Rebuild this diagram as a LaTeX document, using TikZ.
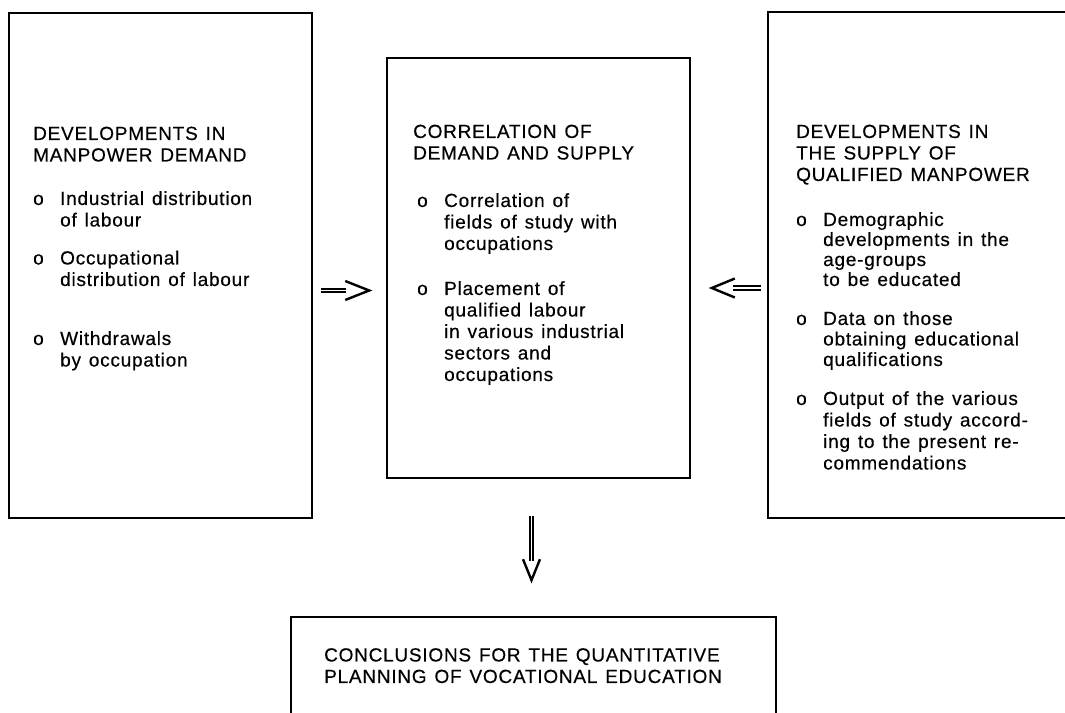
\documentclass[tikz,border=0pt]{standalone}
\usepackage{fontspec}
\setmainfont{Liberation Sans}[LetterSpace=4,WordSpace=1.3,FakeBold=0.4]
\newcommand{\bul}{\makebox[27pt][l]{o}}
\newcommand{\ind}{\hspace*{27pt}}
\tikzset{
  box/.style={draw, line width=1.6pt, inner sep=0pt},
  txt/.style={anchor=north west, inner sep=0pt, align=left, font=\fontsize{19}{21.5}\selectfont},
  shaft/.style={double, double distance=1.4pt, line width=1.9pt},
  chev/.style={line width=2.4pt}
}
\begin{document}
\begin{tikzpicture}[x=1pt, y={(0pt,-1pt)}]
\useasboundingbox (0,0) rectangle (1065,712);
% the four boxes
\node[box, minimum width=303pt, minimum height=505pt] (lbox) at (160.5,265.5) {};
\node[box, minimum width=303pt, minimum height=420pt] (mbox) at (538.5,268) {};
\node[box, minimum width=307pt, minimum height=506pt] (rbox) at (921.5,265) {};
\node[box, minimum width=485pt, minimum height=113pt] (cbox) at (533.5,673.5) {};
% texts
\node[txt] (ltitle) at (33,126.5) {DEVELOPMENTS IN\\MANPOWER DEMAND};
\node[txt] (lone) at (33,191) {\bul Industrial distribution\\\ind of labour};
\node[txt] (ltwo) at (33,250.5) {\bul Occupational\\\ind distribution of labour};
\node[txt] (lthree) at (33,331) {\bul Withdrawals\\\ind by occupation};
\node[txt] (mtitle) at (413,124.5) {CORRELATION OF\\DEMAND AND SUPPLY};
\node[txt] (mone) at (417,193) {\bul Correlation of\\\ind fields of study with\\\ind occupations};
\node[txt] (mtwo) at (417,281) {\bul Placement of\\\ind qualified labour\\\ind in various industrial\\\ind sectors and\\\ind occupations};
\node[txt] (rtitle) at (796,124.5) {DEVELOPMENTS IN\\THE SUPPLY OF\\QUALIFIED MANPOWER};
\node[txt] (rone) at (796,212) {\bul Demographic\\[-1.5pt]\ind developments in the\\[-1.5pt]\ind age-groups\\[-1.5pt]\ind to be educated};
\node[txt] (rtwo) at (796,311) {\bul Data on those\\[-1pt]\ind obtaining educational\\[-1pt]\ind qualifications};
\node[txt] (rthree) at (796,391) {\bul Output of the various\\\ind fields of study accord-\\\ind ing to the present re-\\\ind commendations};
\node[txt] (ctext) at (324,648) {CONCLUSIONS FOR THE QUANTITATIVE\\PLANNING OF VOCATIONAL EDUCATION};
% arrows
\coordinate (la) at ([yshift=-25pt]lbox.east);
\coordinate (lb) at (la -| mbox.west);
\draw[shaft, shorten <=8pt, shorten >=40pt] (la) -- (lb);
\draw[chev] ([xshift=-41pt,yshift=9.5pt]lb) -- ([xshift=-17pt]lb) -- ([xshift=-41pt,yshift=-9.5pt]lb);
\coordinate (ra) at ([yshift=-23pt]rbox.west);
\coordinate (rb) at (ra -| mbox.east);
\draw[shaft, shorten <=6pt, shorten >=42pt] (ra) -- (rb);
\draw[chev] ([xshift=44pt,yshift=9.5pt]rb) -- ([xshift=21pt]rb) -- ([xshift=44pt,yshift=-9.5pt]rb);
\coordinate (da) at ([xshift=-7pt]mbox.south);
\coordinate (db) at (da |- cbox.north);
\draw[shaft, shorten <=37pt, shorten >=55pt] (da) -- (db);
\draw[chev] ([xshift=-8.5pt,yshift=57pt]db) -- ([yshift=36pt]db) -- ([xshift=8.5pt,yshift=57pt]db);
\end{tikzpicture}
\end{document}
